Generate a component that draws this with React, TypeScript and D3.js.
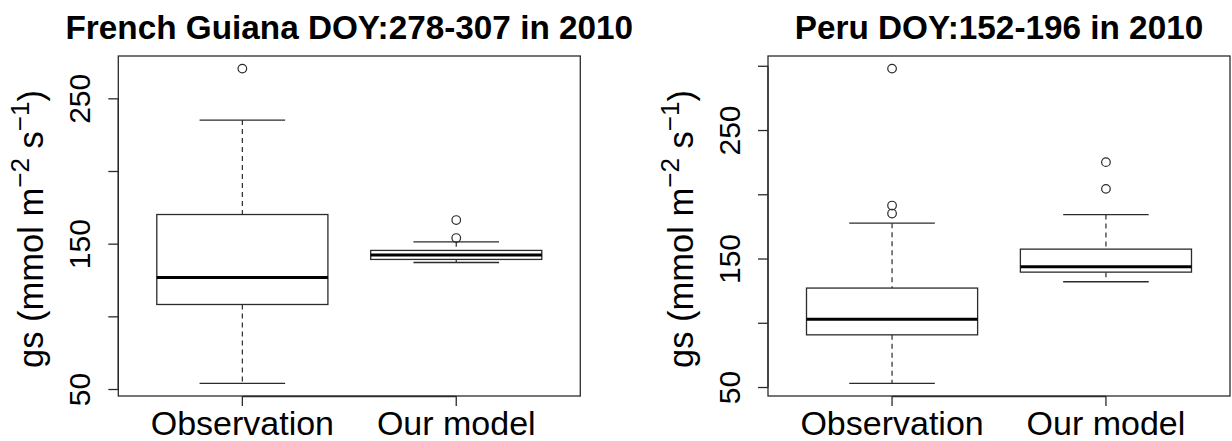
import { useEffect, useRef } from 'react';
import * as d3 from 'd3';

const groups = ['Observation', 'Our model'];

// French Guiana DOY:278-307 — box stats per group
const fgLower = [54.2, 137.4];
const fgQ1 = [108.5, 139.5];
const fgMedian = [127.1, 142.5];
const fgQ3 = [170.4, 145.7];
const fgUpper = [235.4, 151.6];
const fgOutliers = [[270.8], [154.2, 166.6]];

// Peru DOY:152-196
const peLower = [53.2, 132.3];
const peQ1 = [91.0, 139.8];
const peMedian = [103.2, 143.9];
const peQ3 = [127.4, 157.7];
const peUpper = [177.9, 184.6];
const peOutliers = [[298.2, 191.6, 185.4], [225.4, 204.6]];

const titles = ['French Guiana DOY:278-307 in 2010', 'Peru DOY:152-196 in 2010'];
const yTicks = [50, 100, 150, 200, 250, 300];
const yTickLabels = [50, 150, 250];

const FONT = '"Liberation Sans", Arial, Helvetica, sans-serif';

export default function App() {
    const svgRef = useRef(null);

    useEffect(() => {
        if (!svgRef.current) return;
        const svg = d3.select(svgRef.current);
        svg.selectAll('*').remove();

        const panels = [
            { left: 118.3, title: titles[0], lower: fgLower, q1: fgQ1, med: fgMedian, q3: fgQ3, upper: fgUpper, out: fgOutliers },
            { left: 768, title: titles[1], lower: peLower, q1: peQ1, med: peMedian, q3: peQ3, upper: peUpper, out: peOutliers },
        ];
        const plotW = 462;
        const top = 56;
        const bottom = 396;
        const ink = '#2b2b2b';

        panels.forEach((p) => {
            const g = svg.append('g');
            const allVals = [...p.lower, ...p.upper, ...p.out.flat()];
            const lo = d3.min(allVals);
            const hi = d3.max(allVals);
            const pad = (hi - lo) * 0.04;
            const y = d3.scaleLinear().domain([lo - pad, hi + pad]).range([bottom, top]);
            const x = d3.scaleLinear().domain([0.5 - 0.08, 2.5 + 0.08]).range([p.left, p.left + plotW]);
            const unit = x(2) - x(1);

            // plot frame
            g.append('rect')
                .attr('x', p.left).attr('y', top)
                .attr('width', plotW).attr('height', bottom - top)
                .attr('fill', 'none').attr('stroke', ink).attr('stroke-width', 1.3);

            groups.forEach((name, i) => {
                const cx = x(i + 1);
                const bw = unit * 0.8;
                const cw = bw / 2;
                // whiskers
                g.append('line')
                    .attr('x1', cx).attr('x2', cx)
                    .attr('y1', y(p.upper[i])).attr('y2', y(p.q3[i]))
                    .attr('stroke', ink).attr('stroke-width', 1.2).attr('stroke-dasharray', '5,4');
                g.append('line')
                    .attr('x1', cx).attr('x2', cx)
                    .attr('y1', y(p.q1[i])).attr('y2', y(p.lower[i]))
                    .attr('stroke', ink).attr('stroke-width', 1.2).attr('stroke-dasharray', '5,4');
                // caps
                [p.upper[i], p.lower[i]].forEach((v) => {
                    g.append('line')
                        .attr('x1', cx - cw / 2).attr('x2', cx + cw / 2)
                        .attr('y1', y(v)).attr('y2', y(v))
                        .attr('stroke', ink).attr('stroke-width', 1.3);
                });
                // box
                g.append('rect')
                    .attr('x', cx - bw / 2).attr('y', y(p.q3[i]))
                    .attr('width', bw).attr('height', y(p.q1[i]) - y(p.q3[i]))
                    .attr('fill', 'white').attr('stroke', ink).attr('stroke-width', 1.3);
                // median
                g.append('line')
                    .attr('x1', cx - bw / 2).attr('x2', cx + bw / 2)
                    .attr('y1', y(p.med[i])).attr('y2', y(p.med[i]))
                    .attr('stroke', '#000').attr('stroke-width', 3);
                // outliers
                p.out[i].forEach((v) => {
                    g.append('circle')
                        .attr('cx', cx).attr('cy', y(v)).attr('r', 4.3)
                        .attr('fill', 'none').attr('stroke', ink).attr('stroke-width', 1.2);
                });
                // x tick label
                g.append('text')
                    .attr('x', cx).attr('y', 435)
                    .attr('text-anchor', 'middle')
                    .attr('font-family', FONT).attr('font-size', 34)
                    .text(name);
            });

            // x axis line and ticks
            g.append('line')
                .attr('x1', x(1)).attr('x2', x(2))
                .attr('y1', bottom + 0.5).attr('y2', bottom + 0.5)
                .attr('stroke', ink).attr('stroke-width', 1.3);
            [1, 2].forEach((k) => {
                g.append('line')
                    .attr('x1', x(k)).attr('x2', x(k))
                    .attr('y1', bottom).attr('y2', bottom + 10)
                    .attr('stroke', ink).attr('stroke-width', 1.3);
            });

            // y axis
            const ticks = yTicks.filter((t) => t >= y.domain()[0] && t <= y.domain()[1]);
            g.append('line')
                .attr('x1', p.left).attr('x2', p.left)
                .attr('y1', y(d3.min(ticks))).attr('y2', y(d3.max(ticks)))
                .attr('stroke', ink).attr('stroke-width', 1.3);
            ticks.forEach((t) => {
                g.append('line')
                    .attr('x1', p.left - 10).attr('x2', p.left)
                    .attr('y1', y(t)).attr('y2', y(t))
                    .attr('stroke', ink).attr('stroke-width', 1.3);
            });
            yTickLabels.forEach((t) => {
                g.append('text')
                    .attr('transform', `translate(${p.left - 28.3},${y(t)}) rotate(-90)`)
                    .attr('text-anchor', 'middle')
                    .attr('font-family', FONT).attr('font-size', 30)
                    .text(t);
            });

            // y axis title
            const yl = g.append('text')
                .attr('transform', `translate(${p.left - 75},${(top + bottom) / 2 + 3}) rotate(-90)`)
                .attr('text-anchor', 'middle')
                .attr('font-family', FONT).attr('font-size', 34.5);
            yl.append('tspan').text('gs (mmol m');
            yl.append('tspan').attr('dy', -14).attr('font-size', 26).text('\u22122');
            yl.append('tspan').attr('dy', 14).text(' s');
            yl.append('tspan').attr('dy', -14).attr('font-size', 26).text('\u22121');
            yl.append('tspan').attr('dy', 14).text(')');

            // title
            g.append('text')
                .attr('x', p.left + plotW / 2).attr('y', 39)
                .attr('text-anchor', 'middle')
                .attr('font-family', FONT).attr('font-size', 33.3).attr('font-weight', 'bold')
                .text(p.title);
        });
    }, []);

    return (
        <svg
            ref={svgRef}
            width={1232}
            height={441}
            style={{ position: 'absolute', left: 0, top: 0, background: 'white' }}
        ></svg>
    );
}
